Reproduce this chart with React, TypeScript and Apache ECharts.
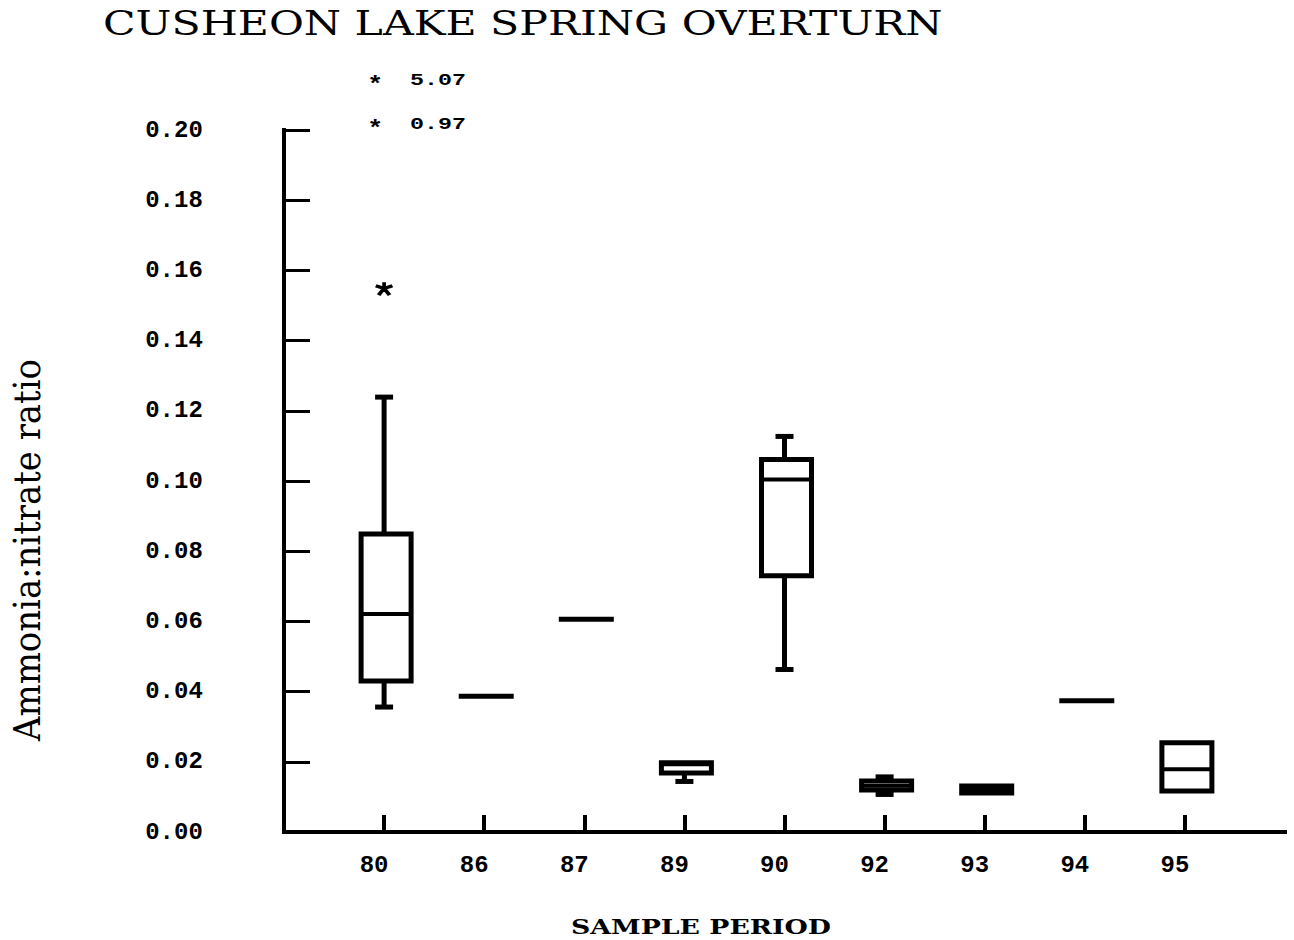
import React, { useEffect, useRef } from "react";
import * as echarts from "echarts";

const TITLE = "CUSHEON LAKE SPRING OVERTURN";
const Y_NAME = "Ammonia:nitrate ratio";
const X_NAME = "SAMPLE PERIOD";

const categories = ["80", "86", "87", "89", "90", "92", "93", "94", "95"];
const whiskerLow = [0.0356, 0.0387, 0.0606, 0.0144, 0.0463, 0.0107, 0.0111, 0.0374, 0.0117];
const quartile1 = [0.043, 0.0387, 0.0606, 0.0168, 0.073, 0.012, 0.0111, 0.0374, 0.0117];
const medians = [0.0621, 0.0387, 0.0606, 0.0193, 0.1004, 0.0132, 0.012, 0.0374, 0.0179];
const quartile3 = [0.0849, 0.0387, 0.0606, 0.0197, 0.1061, 0.0145, 0.0131, 0.0374, 0.0254];
const whiskerHigh = [0.1239, 0.0387, 0.0606, 0.0197, 0.1127, 0.0157, 0.0131, 0.0374, 0.0254];

const outlierCats = ["80"];
const outlierValues = [0.1547];

const offScaleCat = "80";
const offScaleValues = [5.07, 0.97];

const yTicks = { min: 0, max: 0.2, interval: 0.02 };

const MONO = "Liberation Mono";
const SERIF = "DejaVu Serif";
const BOX_W = 50;
const CAP_W = 18;
const LW = 5;

const STAR_PATH =
  "path://M7,0 H9 V4 L15,2 L16,4 L10,6 L14,11 L12,12 L8,7 L4,12 L2,11 L6,6 L0,4 L1,2 L7,4 Z";

const measureCtx = document.createElement("canvas").getContext("2d") as CanvasRenderingContext2D;
function fitScale(text: string, family: string, size: number, weight: string, target: number) {
  measureCtx.font = `${weight} ${size}px "${family}"`;
  const w = measureCtx.measureText(text).width || target;
  return target / w;
}

function textEl(
  text: string,
  x: number,
  y: number,
  family: string,
  size: number,
  weight: string,
  scaleX: number,
  align: string,
  rotation = 0
) {
  return {
    type: "text",
    x,
    y,
    rotation,
    scaleX,
    scaleY: 1,
    silent: true,
    style: {
      text,
      font: `${weight} ${size}px "${family}"`,
      fontFamily: family,
      fontSize: size,
      fontWeight: weight,
      fill: "#000",
      align,
      verticalAlign: "middle",
      textAlign: align,
      textVerticalAlign: "middle",
    },
  };
}

export default function App() {
  const ref = useRef<HTMLDivElement>(null);

  useEffect(() => {
    document.body.style.margin = "0";
    if (!ref.current) return;
    const chart = echarts.init(ref.current, null, { renderer: "svg" });

    const axisData = ["", ...categories, ""];
    const boxData = categories.map((c, i) => [
      c,
      whiskerLow[i],
      quartile1[i],
      medians[i],
      quartile3[i],
      whiskerHigh[i],
    ]);

    const option: any = {
      animation: false,
      backgroundColor: "#fff",
      grid: { left: 284, right: 9, top: 130, bottom: 108, containLabel: false },
      xAxis: {
        type: "category",
        data: axisData,
        boundaryGap: false,
        axisLine: { lineStyle: { color: "#000", width: 4, cap: "square" } },
        axisTick: {
          inside: true,
          length: 17,
          lineStyle: { color: "#000", width: 4 },
          interval: (idx: number) => idx > 0 && idx < axisData.length - 1,
        },
        axisLabel: {
          interval: 0,
          margin: 21,
          padding: [0, 20, 0, 0],
          color: "#000",
          fontFamily: MONO,
          fontWeight: "bold",
          fontSize: 24,
        },
        splitLine: { show: false },
      },
      yAxis: {
        type: "value",
        min: yTicks.min,
        max: yTicks.max,
        interval: yTicks.interval,
        axisLine: { show: true, lineStyle: { color: "#000", width: 4, cap: "square" } },
        axisTick: { show: true, inside: true, length: 26, lineStyle: { color: "#000", width: 3 } },
        axisLabel: {
          margin: 110,
          align: "center",
          padding: [7, 0, 0, 0],
          color: "#000",
          fontFamily: MONO,
          fontWeight: "bold",
          fontSize: 24,
          formatter: (v: number) => v.toFixed(2),
        },
        splitLine: { show: false },
      },
      series: [
        {
          type: "custom",
          data: boxData,
          encode: { x: 0, y: [1, 2, 3, 4, 5] },
          clip: false,
          renderItem: (params: any, api: any) => {
            const c = api.value(0);
            const lo = api.coord([c, api.value(1)]);
            const q1 = api.coord([c, api.value(2)]);
            const md = api.coord([c, api.value(3)]);
            const q3 = api.coord([c, api.value(4)]);
            const hi = api.coord([c, api.value(5)]);
            const cx = lo[0];
            const bx = cx + 2;
            const stroke = { stroke: "#000", lineWidth: LW, fill: "none" };
            const children: any[] = [];
            const hasBox = q1[1] - q3[1] > 0.5;
            if (hi[1] < q3[1] - 0.5) {
              children.push({ type: "line", shape: { x1: cx, y1: q3[1], x2: cx, y2: hi[1] }, style: stroke });
              children.push({ type: "line", shape: { x1: cx - CAP_W / 2, y1: hi[1], x2: cx + CAP_W / 2, y2: hi[1] }, style: stroke });
            }
            if (lo[1] > q1[1] + 0.5) {
              children.push({ type: "line", shape: { x1: cx, y1: q1[1], x2: cx, y2: lo[1] }, style: stroke });
              children.push({ type: "line", shape: { x1: cx - CAP_W / 2, y1: lo[1], x2: cx + CAP_W / 2, y2: lo[1] }, style: stroke });
            }
            if (hasBox) {
              children.push({
                type: "rect",
                shape: { x: bx - BOX_W / 2, y: q3[1], width: BOX_W, height: q1[1] - q3[1] },
                style: { stroke: "#000", lineWidth: LW, fill: "#fff" },
              });
            }
            children.push({
              type: "line",
              shape: {
                x1: bx - BOX_W / 2 - (hasBox ? 0 : LW / 2),
                y1: md[1],
                x2: bx + BOX_W / 2 + (hasBox ? 0 : LW / 2),
                y2: md[1],
              },
              style: { stroke: "#000", lineWidth: hasBox ? 4 : LW, fill: "none" },
            });
            return { type: "group", children };
          },
        },
        {
          type: "scatter",
          data: outlierCats.map((c, i) => [c, outlierValues[i]]),
          symbol: STAR_PATH,
          symbolSize: [16, 12],
          itemStyle: { color: "#000", opacity: 1, borderColor: "#000", borderWidth: 1.5 },
        },
      ],
    };

    chart.setOption(option);

    const px = chart.convertToPixel({ xAxisIndex: 0 }, offScaleCat) as number;
    const graphics: any[] = [
      textEl(TITLE, 103, 24, SERIF, 33, "normal", fitScale(TITLE, SERIF, 33, "normal", 840), "left"),
      textEl(X_NAME, 701, 927, SERIF, 21, "bold", fitScale(X_NAME, SERIF, 21, "bold", 260), "center"),
      textEl(Y_NAME, 27, 550, SERIF, 38, "normal", fitScale(Y_NAME, SERIF, 38, "normal", 382), "center", Math.PI / 2),
    ];
    offScaleValues.forEach((v, i) => {
      const y = 81 + i * 44;
      const label = v.toFixed(2);
      graphics.push(textEl("*", px - 9, y + 4, MONO, 22, "bold", 1.2, "center"));
      graphics.push(textEl(label, px + 26, y, MONO, 16, "bold", fitScale(label, MONO, 16, "bold", 56), "left"));
    });
    chart.setOption({ graphic: { elements: graphics } });

    return () => chart.dispose();
  }, []);

  return <div ref={ref} style={{ width: 1294, height: 940 }} />;
}
